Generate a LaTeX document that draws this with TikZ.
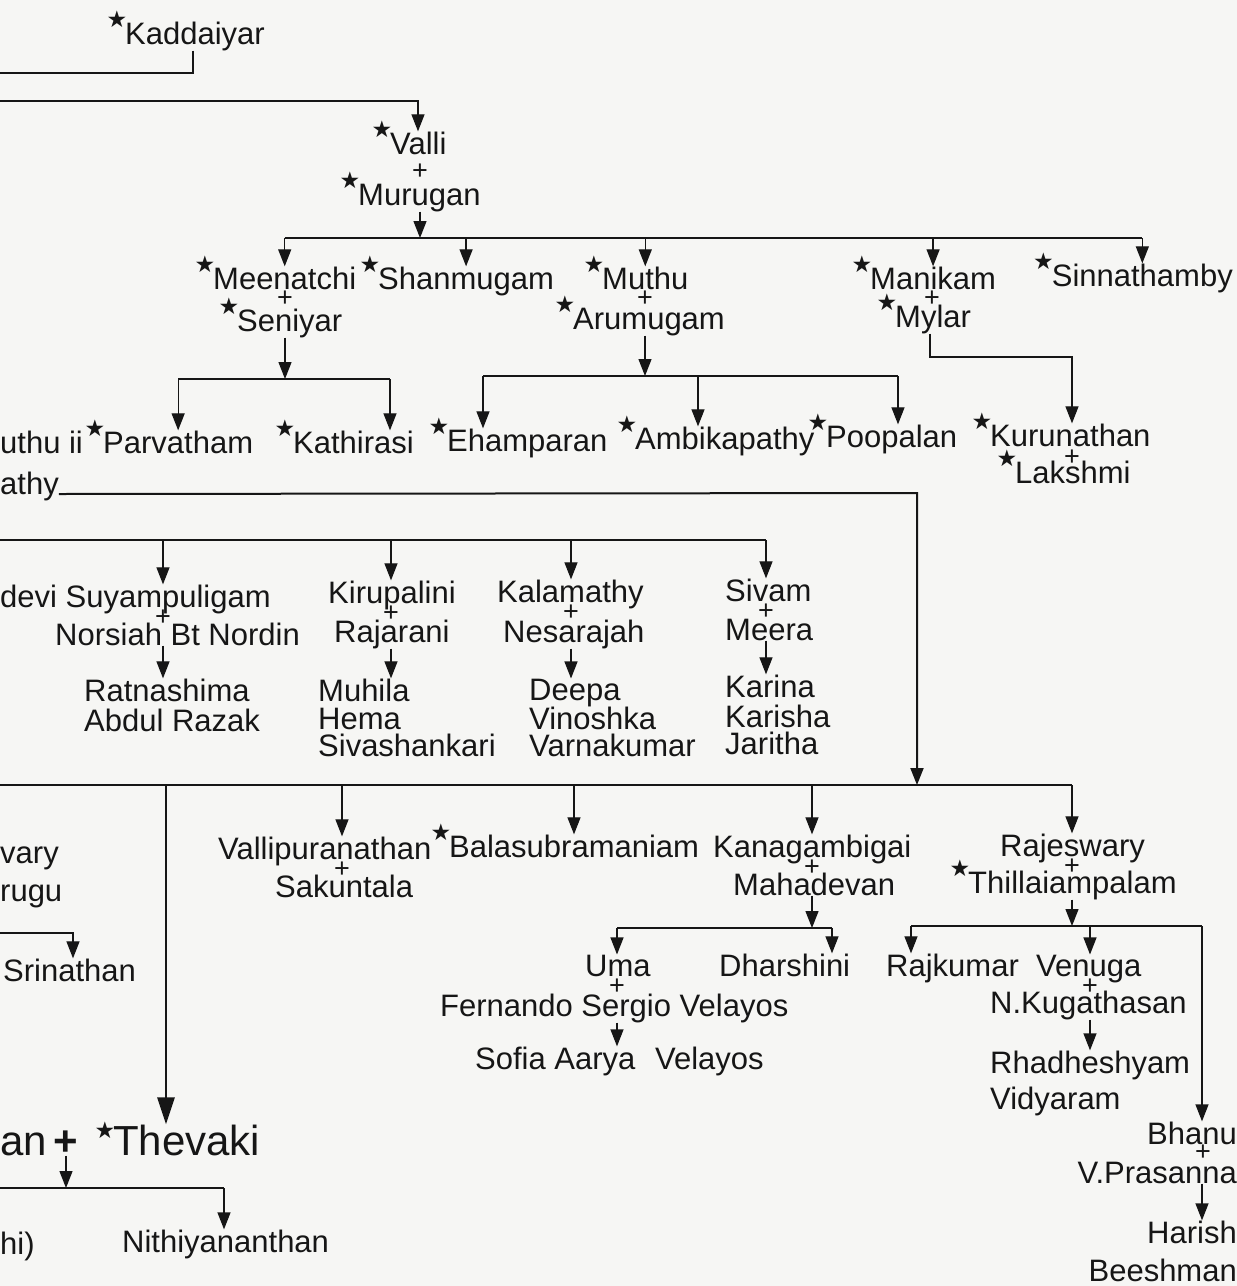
\documentclass[tikz,border=0pt]{standalone}
\usepackage{fontspec}
\setmainfont{Liberation Sans}
\newfontfamily\symf{DejaVu Sans}
\usetikzlibrary{arrows.meta}
\newcommand{\fsN}{\fontsize{31}{30}\selectfont}
\newcommand{\fsB}{\fontsize{42}{42}\selectfont}
\newcommand{\st}{\llap{\smash{\raisebox{17pt}{\symf\fontsize{23}{23}\selectfont ★}}\hspace{-2pt}}}
\definecolor{paper}{RGB}{246,246,244}
\definecolor{ink}{RGB}{22,22,22}
\begin{document}
\begin{tikzpicture}[x=1pt,y=-1pt,
 nm/.style={inner sep=0pt,anchor=base west,font=\fsN,text=ink},
 nme/.style={inner sep=0pt,anchor=base east,font=\fsN,text=ink},
 nmb/.style={inner sep=0pt,anchor=base west,font=\fsB,text=ink},
 pl/.style={inner sep=0pt,font=\fontsize{27}{27}\selectfont,text=ink},
 ln/.style={draw=ink,line width=1.3pt},
 arr/.style={ln,-{Triangle[width=13pt,length=17pt]}},
 midl/.style={draw=ink,line width=2pt,-{Triangle[width=13pt,length=17pt]}},
 tharr/.style={draw=ink,line width=2.8pt,-{Triangle[width=17pt,length=27pt]}},
]
\fill[paper] (0,0) rectangle (1237,1286);
\useasboundingbox (0,0) rectangle (1237,1286);

% ---- generation 1
\node[nm] (Kaddaiyar) at (125,44) {\st Kaddaiyar};
\node[nm] (Valli) at (390,154) {\st Valli};
\node[pl] (pVM) at (420,172) {+};
\node[nm] (Murugan) at (358,205) {\st Murugan};

% ---- generation 2
\node[nm] (Meenatchi) at (213,289) {\st Meenatchi};
\node[nm] (Shanmugam) at (378,289) {\st Shanmugam};
\node[nm] (Muthu) at (602,289) {\st Muthu};
\node[nm] (Manikam) at (870,289) {\st Manikam};
\node[nme] (Sinnathamby) at (1233,286) {\st Sinnathamby};
\node[pl] (pMS) at (285,299) {+};
\node[pl] (pMA) at (645,299) {+};
\node[pl] (pMM) at (932,299) {+};
\node[nm] (Seniyar) at (237,331) {\st Seniyar};
\node[nm] (Arumugam) at (573,329) {\st Arumugam};
\node[nm] (Mylar) at (895,327) {\st Mylar};

% ---- generation 3
\node[nm] (Muthuii) at (0,453) {uthu ii};
\node[nm] (Parvatham) at (103,453) {\st Parvatham};
\node[nm] (Kathirasi) at (293,453) {\st Kathirasi};
\node[nm] (Ehamparan) at (447,451) {\st Ehamparan};
\node[nm] (Ambikapathy) at (635,449) {\st Ambikapathy};
\node[nm] (Poopalan) at (826,447) {\st Poopalan};
\node[nm] (Kurunathan) at (990,446) {\st Kurunathan};
\node[pl] (pKL) at (1072,458) {+};
\node[nm] (Lakshmi) at (1015,483) {\st Lakshmi};
\node[nm] (athy) at (0,494) {athy};

% ---- generation 4 (upper)
\node[nm] (Suyampuligam) at (0,607) {devi Suyampuligam};
\node[pl] (pSN) at (163,618) {+};
\node[nm] (Norsiah) at (55,645) {Norsiah Bt Nordin};
\node[nm] (Ratnashima) at (84,701) {Ratnashima};
\node[nm] (Abdul) at (84,731) {Abdul Razak};
\node[nm] (Kirupalini) at (328,603) {Kirupalini};
\node[pl] (pKR) at (391,614) {+};
\node[nm] (Rajarani) at (334,642) {Rajarani};
\node[nm] (Muhila) at (318,701) {Muhila};
\node[nm] (Hema) at (318,729) {Hema};
\node[nm] (Sivashankari) at (318,756) {Sivashankari};
\node[nm] (Kalamathy) at (497,602) {Kalamathy};
\node[pl] (pKN) at (571,613) {+};
\node[nm] (Nesarajah) at (503,642) {Nesarajah};
\node[nm] (Deepa) at (529,700) {Deepa};
\node[nm] (Vinoshka) at (529,729) {Vinoshka};
\node[nm] (Varnakumar) at (529,756) {Varnakumar};
\node[nm] (Sivam) at (725,601) {Sivam};
\node[pl] (pSM) at (766,612) {+};
\node[nm] (Meera) at (725,640) {Meera};
\node[nm] (Karina) at (725,697) {Karina};
\node[nm] (Karisha) at (725,727) {Karisha};
\node[nm] (Jaritha) at (725,754) {Jaritha};

% ---- generation 4 (lower)
\node[nm] (vary) at (0,863) {vary};
\node[nm] (rugu) at (0,901) {rugu};
\node[nm] (Srinathan) at (3,981) {Srinathan};
\node[nm] (Vallipuranathan) at (218,859) {Vallipuranathan};
\node[pl] (pVS) at (342,870) {+};
\node[nm] (Sakuntala) at (275,897) {Sakuntala};
\node[nm] (Balasubramaniam) at (449,857) {\st Balasubramaniam};
\node[nm] (Kanagambigai) at (713,857) {Kanagambigai};
\node[pl] (pKM) at (812,868) {+};
\node[nm] (Mahadevan) at (733,895) {Mahadevan};
\node[nm] (Uma) at (585,976) {Uma};
\node[pl] (pUF) at (617,987) {+};
\node[nm] (Fernando) at (440,1016) {Fernando Sergio Velayos};
\node[nm] (Sofia) at (475,1069) {Sofia Aarya\hspace{11pt} Velayos};
\node[nm] (Dharshini) at (719,976) {Dharshini};
\node[nm] (Rajeswary) at (1000,856) {Rajeswary};
\node[pl] (pRT) at (1072,867) {+};
\node[nm] (Thillai) at (968,893) {\st Thillaiampalam};
\node[nm] (Rajkumar) at (886,976) {Rajkumar};
\node[nm] (Venuga) at (1036,976) {Venuga};
\node[pl] (pVK) at (1090,987) {+};
\node[nm] (Kugathasan) at (990,1013) {N.Kugathasan};
\node[nm] (Rhadheshyam) at (990,1073) {Rhadheshyam};
\node[nm] (Vidyaram) at (990,1109) {Vidyaram};
\node[nme] (Bhanu) at (1237,1144) {Bhanu};
\node[pl] (pBV) at (1203,1153) {+};
\node[nme] (Prasanna) at (1237,1183) {V.Prasanna};
\node[nme] (Harish) at (1237,1243) {Harish};
\node[nme] (Beeshman) at (1237,1281) {Beeshman};

% ---- bottom
\node[nmb] (an) at (0,1155) {an};
\node[inner sep=0pt,font=\fsB,text=ink] (bigplus) at (66,1143) {\textbf{+}};
\node[nmb] (Thevaki) at (113,1155) {\st Thevaki};
\node[nm] (hi) at (0,1254) {hi)};
\node[nm] (Nithiyananthan) at (122,1252) {Nithiyananthan};

% ================= connectors
\coordinate (kL) at (0,73); \coordinate (kR) at (193,73);
\draw[ln] (Kaddaiyar.south -| kR) -- (kR) -- (kL);
\coordinate (vL) at (0,101); \coordinate (vR) at (418,101);
\draw[arr] (vL) -- (vR) -- (vR |- Valli.north);

\coordinate (mb) at (420,238);
\draw[arr] (Murugan.south -| mb) -- (mb);
\draw[ln] (mb -| Meenatchi) -- (mb -| Sinnathamby);
\foreach \n in {Meenatchi,Shanmugam,Muthu,Manikam,Sinnathamby}
  \draw[arr] (mb -| \n) -- (\n.north);

\coordinate (sb) at (285,379); \coordinate (sbR) at (390,379);
\draw[arr] (Seniyar.south -| sb) -- (sb);
\draw[ln] (sb -| Parvatham) -- (sbR);
\draw[arr] (sb -| Parvatham) -- (Parvatham.north);
\draw[arr] (sbR) -- (sbR |- Kathirasi.north);

\coordinate (ab) at (645,376); \coordinate (abL) at (483,376);
\coordinate (abM) at (698,376); \coordinate (abR) at (898,376);
\draw[arr] (Arumugam.south -| ab) -- (ab);
\draw[ln] (abL) -- (abR);
\draw[arr] (abL) -- (abL |- Ehamparan.north);
\draw[arr] (abM) -- (abM |- Ambikapathy.north);
\draw[arr] (abR) -- (abR |- Poopalan.north);

\coordinate (my1) at (930,357); \coordinate (my2) at (1072,357);
\draw[arr] (Mylar.south -| my1) -- (my1) -- (my2) -- (my2 |- Kurunathan.north);

\coordinate (at1) at (917,493); \coordinate (eT) at (917,785);
\draw[midl] (athy.base east) -- (at1) -- (eT);

\coordinate (cL) at (0,540); \coordinate (cR) at (766,540);
\coordinate (c1) at (163,540); \coordinate (c2) at (391,540); \coordinate (c3) at (571,540);
\draw[ln] (cL) -- (cR);
\draw[arr] (c1) -- (c1 |- Suyampuligam.north);
\draw[arr] (c2) -- (c2 |- Kirupalini.north);
\draw[arr] (c3) -- (c3 |- Kalamathy.north);
\draw[arr] (cR) -- (cR |- Sivam.north);
\draw[arr] (Norsiah.south -| c1) -- (Ratnashima.north -| c1);
\draw[arr] (Rajarani.south -| c2) -- (Muhila.north -| c2);
\draw[arr] (Nesarajah.south -| c3) -- (Deepa.north -| c3);
\draw[arr] (Meera.south -| cR) -- (Karina.north -| cR);

\coordinate (eL) at (0,785); \coordinate (eR) at (1072,785);
\coordinate (e1) at (166,785); \coordinate (e2) at (342,785);
\coordinate (e3) at (574,785); \coordinate (e4) at (812,785);
\draw[ln] (eL) -- (eR);
\draw[tharr] (e1) -- (e1 |- Thevaki.north);
\draw[arr] (e2) -- (e2 |- Vallipuranathan.north);
\draw[arr] (e3) -- (e3 |- Balasubramaniam.north);
\draw[arr] (e4) -- (e4 |- Kanagambigai.north);
\draw[arr] (eR) -- (eR |- Rajeswary.north);

\coordinate (sr0) at (0,933); \coordinate (sr1) at (73,933);
\draw[arr] (sr0) -- (sr1) -- (sr1 |- Srinathan.north);

\coordinate (mh) at (812,928); \coordinate (mhL) at (617,928); \coordinate (mhR) at (832,928);
\draw[arr] (Mahadevan.south -| mh) -- (mh);
\draw[ln] (mhL) -- (mhR);
\draw[arr] (mhL) -- (mhL |- Uma.north);
\draw[arr] (mhR) -- (mhR |- Dharshini.north);
\draw[arr] (Fernando.south -| mhL) -- (Sofia.north -| mhL);

\coordinate (th) at (1072,926); \coordinate (thL) at (911,926);
\coordinate (thM) at (1090,926); \coordinate (thR) at (1202,926);
\draw[arr] (Thillai.south -| th) -- (th);
\draw[ln] (thL) -- (thR);
\draw[arr] (thL) -- (thL |- Rajkumar.north);
\draw[arr] (thM) -- (thM |- Venuga.north);
\draw[arr] (thR) -- (thR |- Bhanu.north);
\draw[arr] (Kugathasan.south -| thM) -- (Rhadheshyam.north -| thM);
\draw[arr] (Prasanna.south -| thR) -- (Harish.north -| thR);

\coordinate (nb) at (66,1188); \coordinate (nbL) at (0,1188); \coordinate (nbR) at (224,1188);
\draw[arr] (bigplus.south) -- (nb);
\draw[ln] (nbL) -- (nbR);
\draw[arr] (nbR) -- (nbR |- Nithiyananthan.north);
\end{tikzpicture}
\end{document}
